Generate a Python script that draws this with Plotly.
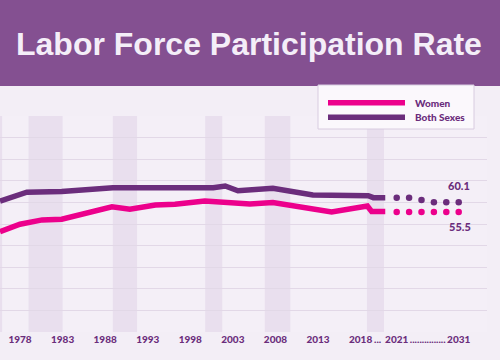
import plotly.graph_objects as go

# ---- data ----
both_years = [1975.65, 1978.8, 1982.9, 1988.9, 2000.7, 2002.1, 2003.6, 2005.0, 2007.7, 2012.4, 2018.9, 2019.5, 2020.9]
both_values = [60.6, 64.7, 65.0, 66.8, 66.8, 67.6, 65.4, 65.7, 66.5, 63.4, 63.1, 62.2, 62.2]

women_years = [1975.65, 1978.0, 1980.6, 1982.9, 1988.8, 1990.9, 1993.9, 1996.2, 1999.7, 2005.0, 2007.7, 2014.6, 2018.8, 2019.3, 2020.9]
women_values = [46.4, 49.9, 51.9, 52.2, 58.0, 56.8, 58.8, 59.1, 60.6, 59.3, 59.9, 55.6, 58.3, 55.8, 55.8]

proj_years = [2021, 2023, 2025, 2027, 2029, 2031]
proj_both = [62.2, 62.2, 61.1, 60.1, 60.1, 60.1]
proj_women = [55.5, 55.5, 55.5, 55.5, 55.5, 55.5]

recessions = [(1975.3, 1975.9), (1979.0, 1983.0), (1988.9, 1991.75), (1999.75, 2001.75), (2006.75, 2009.75), (2018.75, 2020.75)]

hist_tick_vals = [1978, 1983, 1988, 1993, 1998, 2003, 2008, 2013, 2018, 2020]
hist_tick_text = ["1978", "1983", "1988", "1993", "1998", "2003", "2008", "2013", "2018", "..."]
proj_tick_vals = [2021, 2026, 2031]
proj_tick_text = ["2021", "...............", "2031"]

series_names = ["Women", "Both Sexes"]
title_text = "Labor Force Participation Rate"

# ---- styles ----
PINK = "#EC008C"
PURPLE = "#6B2D7C"
BANNER = "#845091"
BG = "#F3EEF6"
BAND = "#E9DFEE"
GRID = "#E2D8E7"
FONT = "Lato"
HEAVY = 900

W, H = 500, 360
ML, MR, MT, MB = 0, 13, 116, 28
PW = W - ML - MR
PH = H - MT - MB

def px_x(p):
    return (p - ML) / PW

def px_y(p):
    return (H - MB - p) / PH

fig = go.Figure()

fig.add_trace(go.Scatter(x=both_years, y=both_values, mode="lines", name=series_names[1],
                         line=dict(color=PURPLE, width=5.5), showlegend=False))
fig.add_trace(go.Scatter(x=women_years, y=women_values, mode="lines", name=series_names[0],
                         line=dict(color=PINK, width=5.5), showlegend=False))
fig.add_trace(go.Scatter(x=proj_years, y=proj_both, mode="markers", name=series_names[1] + " (projected)",
                         marker=dict(color=PURPLE, size=6.5), xaxis="x2", showlegend=False))
fig.add_trace(go.Scatter(x=proj_years, y=proj_women, mode="markers", name=series_names[0] + " (projected)",
                         marker=dict(color=PINK, size=6.5), xaxis="x2", showlegend=False))

shapes = []
for a, b in recessions:
    shapes.append(dict(type="rect", xref="x", yref="paper", x0=a, x1=b, y0=0, y1=1,
                       fillcolor=BAND, line=dict(width=0), layer="between"))

# title banner
shapes.append(dict(type="rect", xref="paper", yref="paper", x0=-0.05, x1=1.1,
                   y0=px_y(86), y1=px_y(-10), fillcolor=BANNER, line=dict(width=0), layer="above"))

# legend box
shapes.append(dict(type="rect", xref="paper", yref="paper", x0=px_x(318), x1=px_x(474),
                   y0=px_y(129), y1=px_y(85), fillcolor="#FBF8FC",
                   line=dict(color="#D8CCE0", width=1), layer="above"))
shapes.append(dict(type="line", xref="paper", yref="paper", x0=px_x(328), x1=px_x(405),
                   y0=px_y(102.7), y1=px_y(102.7), line=dict(color=PINK, width=5.5), layer="above"))
shapes.append(dict(type="line", xref="paper", yref="paper", x0=px_x(328), x1=px_x(405),
                   y0=px_y(117.3), y1=px_y(117.3), line=dict(color=PURPLE, width=5.5), layer="above"))

small = dict(family=FONT, size=10, color=PURPLE, weight=HEAVY)
label = dict(family=FONT, size=11, color=PURPLE, weight=HEAVY)

annotations = [
    dict(text=title_text, xref="paper", yref="paper", x=px_x(249.5), y=px_y(44),
         xanchor="center", yanchor="middle", showarrow=False,
         font=dict(family="Liberation Sans, Arial", size=32, color="#F4EEF8", weight="bold")),
    dict(text=series_names[0], xref="paper", yref="paper", x=px_x(413), y=px_y(102.7),
         xanchor="left", yanchor="middle", showarrow=False, font=small),
    dict(text=series_names[1], xref="paper", yref="paper", x=px_x(413), y=px_y(117.3),
         xanchor="left", yanchor="middle", showarrow=False, font=small),
    dict(text=str(proj_both[-1]), xref="x2", yref="y", x=proj_years[-1], y=proj_both[-1],
         yshift=17, xanchor="center", yanchor="middle", showarrow=False, font=label),
    dict(text=str(proj_women[-1]), xref="x2", yref="y", x=proj_years[-1], y=proj_women[-1],
         yshift=-14, xshift=1.5, xanchor="center", yanchor="middle", showarrow=False, font=label),
]

hist_lo = 1975.65
hist_hi = hist_lo + PW / 8.514
proj_scale = 6.2
proj_lo = 2021 - 396.7 / proj_scale
proj_hi = 2031 + (PW - 458.7) / proj_scale

fig.update_layout(
    width=W, height=H,
    margin=dict(l=ML, r=MR, t=MT, b=MB, autoexpand=False),
    paper_bgcolor=BG, plot_bgcolor="#F4EFF7",
    showlegend=False,
    shapes=shapes, annotations=annotations,
    xaxis=dict(range=[hist_lo, hist_hi], tickvals=hist_tick_vals, ticktext=hist_tick_text,
               showgrid=False, zeroline=False, ticks="", tickfont=small, tickangle=0,
               automargin=False, showline=False, fixedrange=True),
    xaxis2=dict(range=[proj_lo, proj_hi], overlaying="x", anchor="y", side="bottom",
                tickvals=proj_tick_vals, ticktext=proj_tick_text, tickangle=0, automargin=False,
                showgrid=False, zeroline=False, ticks="", tickfont=small, fixedrange=True),
    yaxis=dict(range=[0, 100], dtick=10, showticklabels=False, ticks="", automargin=False,
               showgrid=True, gridcolor=GRID, gridwidth=1.3, zeroline=False, fixedrange=True),
)

fig.write_html("out.html", config={"displayModeBar": False},
               post_script="document.body.style.margin='0';document.body.style.background='" + BG + "';")
